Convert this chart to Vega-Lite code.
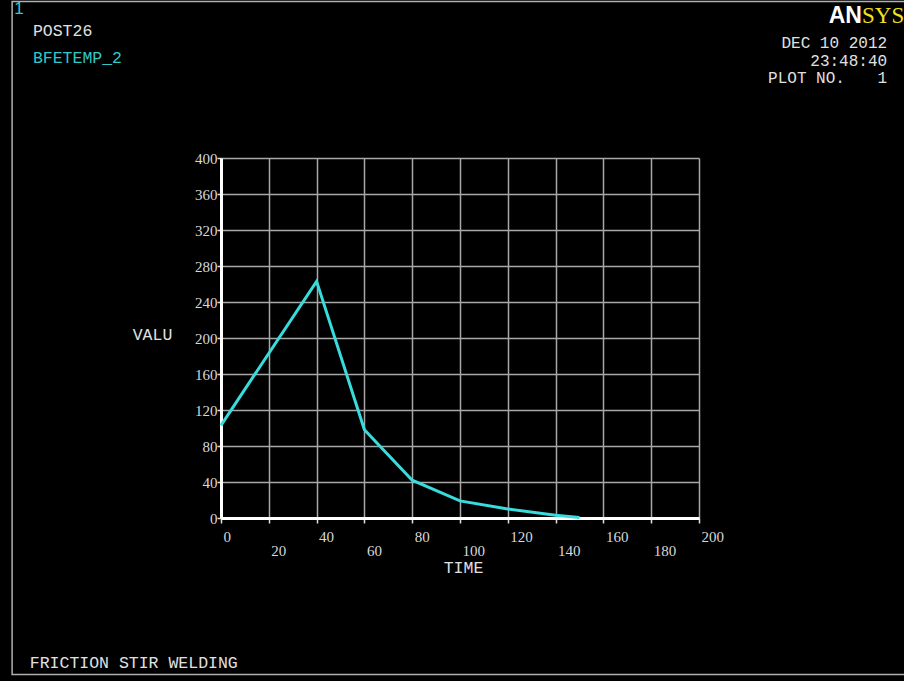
{
  "$schema": "https://vega.github.io/schema/vega-lite/v6.json",
  "autosize": "none",
  "width": 478,
  "height": 360,
  "padding": {"left": 221, "top": 158, "right": 205, "bottom": 163},
  "background": "#000000",
  "config": {
    "view": {"stroke": null},
    "font": "Liberation Serif",
    "axis": {
      "labelFont": "Liberation Serif",
      "labelFontSize": 15,
      "labelColor": "#d8d8d8",
      "titleFont": "Liberation Mono",
      "titleFontSize": 16.5,
      "titleFontWeight": "normal",
      "titleColor": "#e0e0e0",
      "gridColor": "#a8a8a8",
      "gridWidth": 1.5,
      "gridOpacity": 1,
      "domainColor": "#ffffff",
      "domainWidth": 3,
      "tickColor": "#e0e0e0",
      "tickWidth": 1.5,
      "tickSize": 5
    }
  },
  "resolve": {"axis": {"x": "independent", "y": "independent"}},
  "datasets": {
    "series": [
      {"TIME": 0, "VALU": 103},
      {"TIME": 40, "VALU": 263},
      {"TIME": 60, "VALU": 98},
      {"TIME": 80, "VALU": 42},
      {"TIME": 100, "VALU": 19},
      {"TIME": 120, "VALU": 10},
      {"TIME": 140, "VALU": 3},
      {"TIME": 150, "VALU": 0.5}
    ]
  },
  "layer": [
    {
      "data": {"name": "series"},
      "mark": {"type": "line", "color": "#38dcdc", "strokeWidth": 3},
      "encoding": {
        "x": {
          "field": "TIME",
          "type": "quantitative",
          "scale": {"domain": [0, 200], "nice": false},
          "axis": {
            "values": [0, 20, 40, 60, 80, 100, 120, 140, 160, 180, 200],
            "title": "TIME",
            "titleX": 242,
            "titleY": 49,
            "titleAlign": "center",
            "titleBaseline": "middle",
            "labelAlign": "left",
            "labelOffset": 2,
            "labelPadding": {"condition": {"test": "datum.value % 40 === 0", "value": 6}, "value": 20},
            "labelBaseline": "top",
            "labelFlush": false,
            "labelOverlap": false
          }
        },
        "y": {
          "field": "VALU",
          "type": "quantitative",
          "scale": {"domain": [0, 400], "nice": false},
          "axis": {
            "values": [0, 40, 80, 120, 160, 200, 240, 280, 320, 360, 400],
            "title": "VALU",
            "titleAngle": 0,
            "titleX": -69,
            "titleY": 176,
            "titleAlign": "center",
            "titleBaseline": "middle",
            "labelPadding": 0,
            "tickSize": 4,
            "labelFlush": false,
            "labelOverlap": false
          }
        }
      }
    },
    {
      "data": {"values": [{"label": "1"}]},
      "mark": {"type": "text", "align": "left", "baseline": "middle", "font": "Liberation Sans", "fontSize": 17, "color": "#30c8c8"},
      "encoding": {"x": {"datum": -86.5, "axis": null}, "y": {"datum": 566, "axis": null}, "text": {"field": "label"}}
    },
    {
      "data": {"values": [{"label": "POST26"}]},
      "mark": {"type": "text", "align": "left", "baseline": "middle", "font": "Liberation Mono", "fontSize": 16.5, "color": "#e0e0e0"},
      "encoding": {"x": {"datum": -78.7, "axis": null}, "y": {"datum": 541, "axis": null}, "text": {"field": "label"}}
    },
    {
      "data": {"values": [{"label": "BFETEMP_2"}]},
      "mark": {"type": "text", "align": "left", "baseline": "middle", "font": "Liberation Mono", "fontSize": 16.5, "color": "#30c8c8"},
      "encoding": {"x": {"datum": -78.7, "axis": null}, "y": {"datum": 511, "axis": null}, "text": {"field": "label"}}
    },
    {
      "data": {"values": [{"label": "AN"}]},
      "mark": {"type": "text", "align": "right", "baseline": "middle", "font": "Liberation Sans", "fontWeight": "bold", "fontSize": 23, "color": "#ffffff"},
      "encoding": {"x": {"datum": 268.2, "axis": null}, "y": {"datum": 558, "axis": null}, "text": {"field": "label"}}
    },
    {
      "data": {"values": [{"label": "SYS"}]},
      "mark": {"type": "text", "align": "left", "baseline": "middle", "fontSize": 23, "color": "#f0e020"},
      "encoding": {"x": {"datum": 268.2, "axis": null}, "y": {"datum": 558, "axis": null}, "text": {"field": "label"}}
    },
    {
      "data": {"values": [{"label": "DEC 10 2012"}]},
      "mark": {"type": "text", "align": "right", "baseline": "middle", "font": "Liberation Mono", "fontSize": 16, "color": "#e0e0e0"},
      "encoding": {"x": {"datum": 278.7, "axis": null}, "y": {"datum": 527.5, "axis": null}, "text": {"field": "label"}}
    },
    {
      "data": {"values": [{"label": "23:48:40"}]},
      "mark": {"type": "text", "align": "right", "baseline": "middle", "font": "Liberation Mono", "fontSize": 16, "color": "#e0e0e0"},
      "encoding": {"x": {"datum": 278.7, "axis": null}, "y": {"datum": 508, "axis": null}, "text": {"field": "label"}}
    },
    {
      "data": {"values": [{"label": "1"}]},
      "mark": {"type": "text", "align": "right", "baseline": "middle", "font": "Liberation Mono", "fontSize": 16, "color": "#e0e0e0"},
      "encoding": {"x": {"datum": 278.7, "axis": null}, "y": {"datum": 488.5, "axis": null}, "text": {"field": "label"}}
    },
    {
      "data": {"values": [{"label": "PLOT NO."}]},
      "mark": {"type": "text", "align": "left", "baseline": "middle", "font": "Liberation Mono", "fontSize": 16, "color": "#e0e0e0"},
      "encoding": {"x": {"datum": 228.9, "axis": null}, "y": {"datum": 488.5, "axis": null}, "text": {"field": "label"}}
    },
    {
      "data": {"values": [{"label": "FRICTION STIR WELDING"}]},
      "mark": {"type": "text", "align": "left", "baseline": "middle", "font": "Liberation Mono", "fontSize": 16.5, "color": "#e0e0e0"},
      "encoding": {"x": {"datum": -80, "axis": null}, "y": {"datum": -161, "axis": null}, "text": {"field": "label"}}
    },
    {
      "data": {"values": [{"label": "frame"}]},
      "mark": {"type": "rect", "fill": null, "stroke": "#b0b0b0", "strokeWidth": 1.5},
      "encoding": {"x": {"datum": -87.4, "axis": null}, "x2": {"datum": 290}, "y": {"datum": 574, "axis": null}, "y2": {"datum": -174}}
    }
  ]
}
